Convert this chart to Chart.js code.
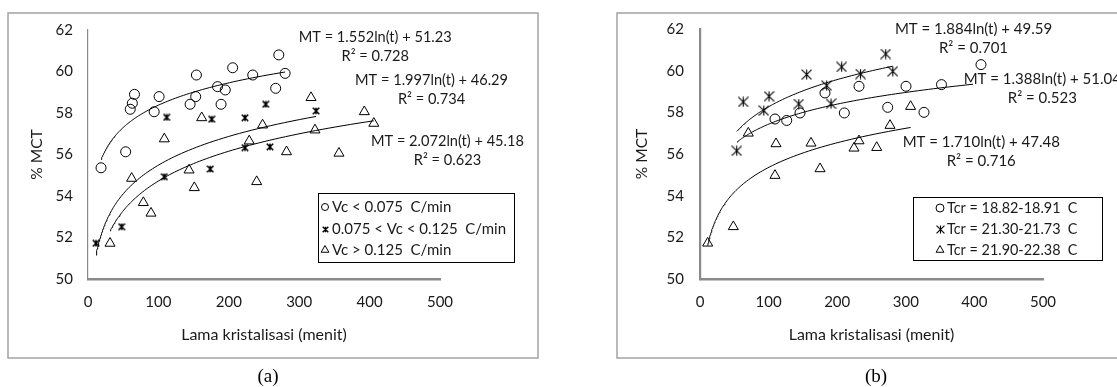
<!DOCTYPE html>
<html>
<head>
<meta charset="utf-8">
<script src="https://cdn.jsdelivr.net/npm/chart.js@4.4.1/dist/chart.umd.min.js"></script>
<style>
  html, body { margin: 0; padding: 0; background: #fff; }
  #wrap { position: relative; width: 1117px; height: 387px; overflow: hidden; background: #fff; }
  canvas { position: absolute; top: 0; }
  #chartA { left: 0; }
  #chartB { left: 558px; }
</style>
</head>
<body>
<div id="wrap">
  <canvas id="chartA" width="558" height="387"></canvas>
  <canvas id="chartB" width="559" height="387"></canvas>
</div>
<script>
// ---------- axes ----------
const xTicks = [0, 100, 200, 300, 400, 500];
const yTicks = [50, 52, 54, 56, 58, 60, 62];
const xTitle = 'Lama kristalisasi (menit)';
const yTitle = '% MCT';

// ---------- panel (a): grouped by cooling rate Vc ----------
const aLabels = ['Vc < 0.075  C/min', '0.075 < Vc < 0.125  C/min', 'Vc > 0.125  C/min'];

const aSlowT = [18.5, 53.5, 60, 63, 66, 94, 101, 145, 153, 154, 184, 189, 195, 205.5, 234, 266.6, 271, 280];
const aSlowM = [55.36, 56.13, 58.18, 58.47, 58.90, 58.06, 58.79, 58.42, 58.79, 59.83, 59.27, 58.42, 59.11, 60.18, 59.83, 59.19, 60.80, 59.91];

const aMidT = [11.4, 47.8, 108.4, 111.7, 173.7, 175.7, 223, 223, 252.4, 258.5, 324];
const aMidM = [51.72, 52.52, 54.93, 57.79, 55.30, 57.70, 57.77, 56.33, 58.42, 56.37, 58.10];

const aFastT = [31.3, 62, 78.6, 89.5, 108.4, 143.5, 151, 161.5, 229, 239.6, 248, 282, 316.8, 322.4, 356.5, 392.5, 406];
const aFastM = [51.72, 54.85, 53.68, 53.17, 56.75, 55.25, 54.40, 57.77, 56.65, 54.69, 57.42, 56.13, 58.74, 57.18, 56.06, 58.06, 57.50];

// logarithmic fits MT = a ln(t) + b, in the order slow, mid, fast
const aSlope = [1.552, 1.997, 2.072];
const aIntercept = [51.23, 46.29, 45.18];
const aR2 = [0.728, 0.734, 0.623];
const aFitFrom = [18.5, 11.4, 31.3];
const aFitTo = [280, 324, 406];

// ---------- panel (b): grouped by crystallisation temperature Tcr ----------
const bLabels = ['Tcr = 18.82-18.91  C', 'Tcr = 21.30-21.73  C', 'Tcr = 21.90-22.38  C'];

const bLowT = [109.3, 126.4, 145.8, 182.2, 210.4, 231.8, 273.6, 300.3, 326.5, 352, 409.6];
const bLowM = [57.68, 57.61, 57.97, 58.93, 57.97, 59.25, 58.24, 59.25, 58.00, 59.33, 60.29];

const bMidT = [53.5, 63, 93, 100.6, 144, 155.5, 184.6, 191, 206.5, 234, 270.7, 281];
const bMidM = [56.15, 58.50, 58.08, 58.77, 58.40, 59.81, 59.28, 58.41, 60.18, 59.84, 60.80, 59.97];

const bHighT = [11.2, 48.6, 70.4, 109.3, 110.8, 161.8, 175, 224.5, 231.8, 257.6, 277, 307];
const bHighM = [51.72, 52.51, 57.00, 54.97, 56.49, 56.52, 55.29, 56.28, 56.63, 56.31, 57.37, 58.28];

const bSlope = [1.388, 1.884, 1.710];
const bIntercept = [51.04, 49.59, 47.48];
const bR2 = [0.523, 0.701, 0.716];
const bFitFrom = [54, 53.5, 11.2];
const bFitTo = [398, 281, 307];

// ---------- helpers ----------
const FONT = 'Lato, "Open Sans", "Liberation Sans", sans-serif';
const INK = '#1a1a1a';
const AXIS = '#8a8a8a';

function toPoints(ts, ms) { return ts.map((t, i) => ({ x: t, y: ms[i] })); }

function logFit(slope, icpt, from, to) {
  const out = [], n = 90, l0 = Math.log(from), l1 = Math.log(to);
  for (let i = 0; i <= n; i++) {
    const t = Math.exp(l0 + (l1 - l0) * i / n);
    out.push({ x: t, y: slope * Math.log(t) + icpt });
  }
  return out;
}

// six-armed star marker (vertical bar + diagonal cross)
function starMarker(size, lw) {
  const c = document.createElement('canvas');
  c.width = size; c.height = size;
  const g = c.getContext('2d');
  const p = lw / 2;
  g.strokeStyle = '#000'; g.lineWidth = lw; g.lineCap = 'butt';
  g.beginPath();
  g.moveTo(size / 2, p); g.lineTo(size / 2, size - p);
  g.moveTo(p, p); g.lineTo(size - p, size - p);
  g.moveTo(size - p, p); g.lineTo(p, size - p);
  g.stroke();
  return c;
}

function eqText(s, b) { return 'MT = ' + s.toFixed(3) + 'ln(t) + ' + b.toFixed(2); }
function r2Text(r) { return 'R\u00B2 = ' + r.toFixed(3); }

function drawMarker(ctx, ds, x, y, radius) {
  if (ds.pointStyle instanceof HTMLCanvasElement) {
    const img = ds.legendStar || ds.pointStyle;
    ctx.drawImage(img, Math.round(x - img.width / 2), Math.round(y - img.height / 2));
  } else {
    ctx.strokeStyle = '#000'; ctx.fillStyle = 'rgba(0,0,0,0)'; ctx.lineWidth = 1;
    Chart.helpers.drawPoint(ctx, { pointStyle: ds.pointStyle, radius: radius, borderWidth: 1, rotation: 0 }, x, y);
  }
}

// frame, fit equations, legend box and panel caption
const decor = {
  id: 'decor',
  afterDraw(chart, args, o) {
    const ctx = chart.ctx, xs = chart.scales.x, ys = chart.scales.y;
    ctx.save();
    // outer frame
    ctx.strokeStyle = '#a3a3a3'; ctx.lineWidth = 1.5;
    ctx.strokeRect(o.frame[0], o.frame[1], o.frame[2] - o.frame[0], o.frame[3] - o.frame[1]);

    // fit equations
    ctx.fillStyle = INK; ctx.font = o.eqFont + 'px ' + FONT;
    ctx.textAlign = 'center'; ctx.textBaseline = 'middle';
    o.eqAt.forEach((p, i) => {
      const cx = xs.getPixelForValue(p[0]), cy = ys.getPixelForValue(p[1]);
      ctx.fillText(eqText(o.slope[i], o.icpt[i]), cx, cy);
      ctx.fillText(r2Text(o.r2[i]), cx, cy + 19);
    });

    // legend
    const L = o.legend;
    ctx.fillStyle = '#fff';
    ctx.fillRect(L.x, L.y, L.w, L.h);
    ctx.strokeStyle = '#000'; ctx.lineWidth = 1;
    ctx.strokeRect(L.x + 0.5, L.y + 0.5, L.w, L.h);
    ctx.font = o.legFont + 'px ' + FONT; ctx.textAlign = 'left'; ctx.textBaseline = 'middle';
    o.labels.forEach((lab, i) => {
      const ds = chart.data.datasets[i];
      drawMarker(ctx, ds, L.markerX, L.rows[i], L.radius[i]);
      ctx.fillStyle = INK;
      ctx.fillText(lab, L.textX, L.rows[i]);
    });

    // caption
    ctx.fillStyle = '#000'; ctx.font = '19px "Liberation Serif", "DejaVu Serif", serif';
    ctx.textAlign = 'center'; ctx.textBaseline = 'middle';
    ctx.fillText(o.caption, o.captionAt[0], o.captionAt[1]);
    ctx.restore();
  }
};

function buildChart(canvasId, cfg) {
  const styles = ['circle', cfg.star, 'triangle'];
  const radii = [5, 5, 5.8];
  const datasets = [];
  cfg.series.forEach((s, i) => {
    datasets.push({
      label: cfg.labels[i], data: toPoints(s[0], s[1]), showLine: false,
      pointStyle: styles[i], pointRadius: radii[i], pointBorderWidth: 1,
      pointBorderColor: '#000', pointBackgroundColor: 'rgba(0,0,0,0)',
      legendStar: i === 1 ? cfg.legendStar : undefined, order: 1
    });
  });
  cfg.series.forEach((s, i) => {
    datasets.push({
      label: 'fit ' + i, data: logFit(cfg.slope[i], cfg.icpt[i], cfg.from[i], cfg.to[i]),
      showLine: true, pointRadius: 0, borderColor: '#000', borderWidth: 1, tension: 0, order: 2
    });
  });

  return new Chart(document.getElementById(canvasId), {
    type: 'scatter',
    data: { datasets },
    options: {
      responsive: false, animation: false, devicePixelRatio: 1,
      layout: { padding: { left: 0, right: cfg.padR, top: cfg.padT, bottom: 0 } },
      plugins: {
        legend: { display: false }, tooltip: { enabled: false },
        decor: {
          frame: cfg.frame, eqAt: cfg.eqAt, eqFont: cfg.eqFont, legFont: cfg.legFont,
          slope: cfg.slope, icpt: cfg.icpt, r2: cfg.r2, labels: cfg.labels,
          legend: cfg.legend, caption: cfg.caption, captionAt: cfg.captionAt
        }
      },
      scales: {
        x: {
          type: 'linear', min: 0, max: 500,
          afterBuildTicks: s => { s.ticks = xTicks.map(v => ({ value: v })); },
          afterFit: s => { s.height = 387 - cfg.bottom; },
          grid: { display: false, drawTicks: false },
          border: { display: true, color: AXIS, width: 2.5 },
          ticks: { padding: 14, color: INK, font: { family: FONT, size: 15 } },
          title: { display: true, text: xTitle, color: INK, font: { family: FONT, size: 16 }, padding: { top: 0, bottom: 42.4 } }
        },
        y: {
          type: 'linear', min: 50, max: 62,
          afterBuildTicks: s => { s.ticks = yTicks.map(v => ({ value: v })); },
          afterFit: s => { s.width = cfg.left; },
          grid: { display: false, drawTicks: false },
          border: { display: true, color: AXIS, width: cfg.yAxisW },
          ticks: { padding: cfg.yTickPad, color: INK, font: { family: FONT, size: 15 } },
          title: { display: true, text: yTitle, color: INK, font: { family: FONT, size: 15.5 }, padding: { top: cfg.yTitlePad, bottom: 0 } }
        }
      }
    },
    plugins: [decor]
  });
}

// panel (a)
buildChart('chartA', {
  series: [[aSlowT, aSlowM], [aMidT, aMidM], [aFastT, aFastM]],
  labels: aLabels, slope: aSlope, icpt: aIntercept, r2: aR2, from: aFitFrom, to: aFitTo,
  star: starMarker(8, 1.6), legendStar: starMarker(7, 1.4),
  left: 88, padR: 558 - 440, padT: 30, bottom: 279,
  yAxisW: 1.2, yTickPad: 15, yTitlePad: 27.7,
  frame: [8, 13, 538, 358],
  eqAt: [[408, 61.66], [488, 59.59], [510.6, 56.65]], eqFont: 14.6, legFont: 15,
  legend: { x: 318, y: 193, w: 196, h: 69, rows: [207, 229, 250], markerX: 325, textX: 332, radius: [3.5, 0, 4.5] },
  caption: '(a)', captionAt: [268, 377]
});

// panel (b)
buildChart('chartB', {
  series: [[bLowT, bLowM], [bMidT, bMidM], [bHighT, bHighM]],
  labels: bLabels, slope: bSlope, icpt: bIntercept, r2: bR2, from: bFitFrom, to: bFitTo,
  star: starMarker(11, 1.1), legendStar: starMarker(9, 1.1),
  left: 142, padR: 559 - 485, padT: 29, bottom: 279,
  yAxisW: 2.2, yTickPad: 16, yTitlePad: 74.7,
  frame: [59, 13, 700, 358],
  eqAt: [[499, 59.57], [398.7, 61.97], [410, 56.59]], eqFont: 15, legFont: 14.4,
  legend: { x: 355, y: 197, w: 189, h: 63, rows: [208, 229, 250], markerX: 382, textX: 389, radius: [4, 0, 4.5] },
  caption: '(b)', captionAt: [318, 377]
});
</script>
</body>
</html>
